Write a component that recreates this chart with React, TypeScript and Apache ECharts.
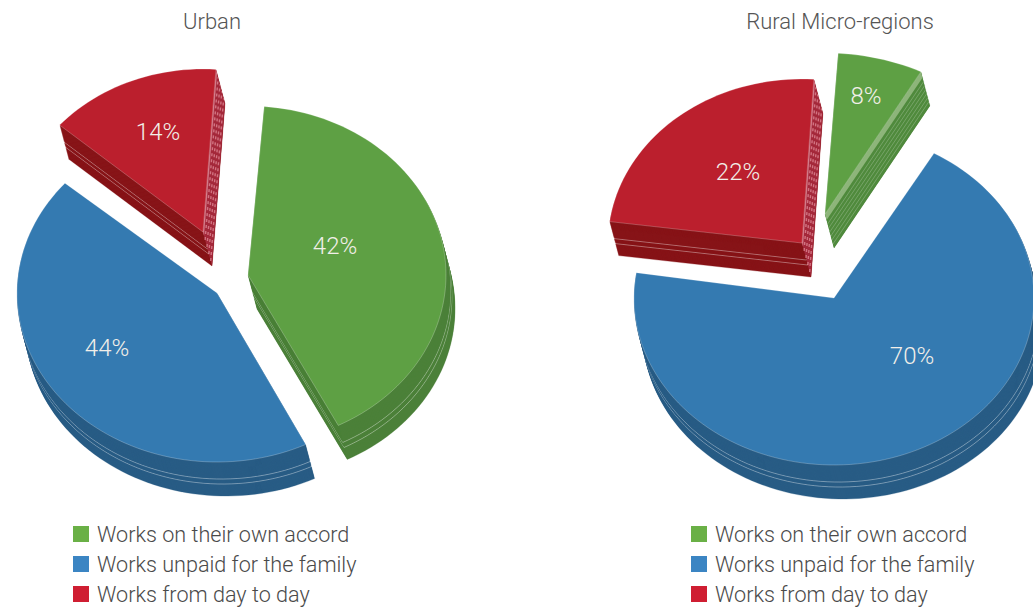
import React, { useEffect, useRef } from "react";
import * as echarts from "echarts";

const categories = ["Works on their own accord", "Works unpaid for the family", "Works from day to day"];
const urbanValues = [42, 44, 14];
const ruralValues = [8, 70, 22];
const pieTitles = ["Urban", "Rural Micro-regions"];

const FONT = "Roboto";
const topColors = ["#5ea044", "#347ab1", "#bb1f2d"];
const wallColors = ["#4c8039", "#285c85", "#871418"];
const faceColors = ["#4f8a3c", "#285c85", "#a4283a"];
const faceBands = ["#8db57a", "#285c85", "#cf6f7f"];
const legendColors = ["#6ab046", "#3b85c3", "#cf1e32"];

const DEPTH = 34;
const SKEW = 9;

// per-slice drawing layout: apex, radii, perspective turn and warp of the sweep,
// label offset from apex, striped cut face
const urbanLayout = [
  { cx: 248, cy: 275, rx: 198, ry: 169, turn: 1.7, warp: 0.98, lx: 87, ly: -29, striped: false },
  { cx: 217, cy: 293, rx: 200, ry: 169, turn: -0.5, warp: 0.99, lx: -110, ly: 55, striped: false },
  { cx: 203, cy: 232, rx: 190, ry: 163, turn: -1.6, warp: 1.05, lx: -45, ly: -100, striped: true },
];
const ruralLayout = [
  { cx: 825, cy: 214, rx: 205, ry: 161, turn: 0.7, warp: 0.84, lx: 41, ly: -118, striped: true },
  { cx: 834, cy: 298, rx: 200, ry: 167, turn: -1.8, warp: 0.987, lx: 78, ly: 58, striped: false },
  { cx: 802, cy: 243, rx: 194, ry: 164, turn: -6.3, warp: 1.086, lx: -64, ly: -71, striped: true },
];

function slicePoints(l: any, t0: number, t1: number) {
  const pts: number[][] = [[l.cx, l.cy]];
  const n = Math.max(4, Math.ceil((t1 - t0) / 2));
  for (let i = 0; i <= n; i++) {
    const t = ((t0 + ((t1 - t0) * i) / n) * Math.PI) / 180;
    pts.push([l.cx + l.rx * Math.sin(t), l.cy - l.ry * Math.cos(t)]);
  }
  return pts;
}

function shifted(pts: number[][], d: number) {
  const dx = (SKEW * d) / DEPTH;
  return pts.map((p) => [p[0] + dx, p[1] + d]);
}

function buildSeries(values: number[], layout: any[], startAngle: number) {
  const total = values.reduce((a, b) => a + b, 0);
  const starts: number[] = [];
  let acc = startAngle;
  values.forEach((v) => {
    starts.push(acc);
    acc += (v / total) * 360;
  });
  return [2, 0, 1].map((i) => ({
    type: "custom",
    name: categories[i],
    coordinateSystem: "none",
    silent: true,
    itemStyle: { color: legendColors[i] },
    data: [[values[i]]],
    renderItem: (_p: any, api: any) => {
      const v = api.value(0) as number;
      const l = layout[i];
      const t0 = starts[i] + l.turn;
      const t1 = t0 + ((v / total) * 360) * l.warp;
      const top = slicePoints(l, t0, t1);
      const children: any[] = [];
      for (let d = DEPTH; d >= 1; d--) {
        const isLine = d === 17 || d === 22;
        children.push({
          type: "polygon",
          shape: { points: shifted(top, d) },
          style: {
            fill: wallColors[i],
            stroke: isLine ? "rgba(255,255,255,0.55)" : wallColors[i],
            lineWidth: isLine ? 0.7 : 0.3,
          },
        });
      }
      if (l.striped) {
        const a = top[0];
        const r = top[top.length - 1];
        const quad = (d0: number, d1: number) => {
          const s0 = shifted([a, r], d0);
          const s1 = shifted([a, r], d1);
          return [s0[0], s0[1], s1[1], s1[0]];
        };
        const isRed = i === 2;
        children.push({ type: "polygon", shape: { points: quad(0, DEPTH) }, style: { fill: faceColors[i] } });
        children.push({ type: "polygon", shape: { points: quad(0, isRed ? 4 : 6) }, style: { fill: faceBands[i] } });
        for (let d = isRed ? 8 : 10; d < DEPTH; d += isRed ? 7 : 4) {
          const s = shifted([a, r], d);
          children.push({
            type: "line",
            shape: { x1: s[0][0], y1: s[0][1], x2: s[1][0], y2: s[1][1] },
            style: {
              stroke: isRed ? "rgba(255,190,200,0.5)" : "rgba(255,255,255,0.28)",
              lineWidth: isRed ? 1.4 : 0.8,
              lineDash: isRed ? [3, 3] : undefined,
            },
          });
        }
      }
      children.push({
        type: "polygon",
        shape: { points: top },
        style: { fill: topColors[i], stroke: "rgba(255,255,255,0.4)", lineWidth: 0.6 },
      });
      children.push({
        type: "text",
        style: {
          text: `${v}%`,
          x: l.cx + l.lx,
          y: l.cy + l.ly,
          fill: "#f2efe9",
          font: `300 24px ${FONT}`,
          align: "center",
          verticalAlign: "middle",
        },
      });
      return { type: "group", children };
    },
  }));
}

function legendAt(left: number) {
  return {
    left,
    top: 523,
    height: 84,
    orient: "vertical",
    padding: 0,
    itemGap: 8,
    itemWidth: 16,
    itemHeight: 16,
    icon: "rect",
    selectedMode: false,
    data: categories,
    textStyle: { color: "#4a4a4a", fontFamily: FONT, fontWeight: 300, fontSize: 21.6, lineHeight: 22, padding: [0, 0, 0, 3] },
  };
}

const titleStyle = { color: "#555", fontFamily: FONT, fontWeight: 300, fontSize: 22 };

export default function App() {
  const ref = useRef<HTMLDivElement>(null);
  useEffect(() => {
    document.body.style.margin = "0";
    const chart = echarts.init(ref.current!, undefined, { renderer: "svg" });
    chart.setOption({
      animation: false,
      backgroundColor: "#ffffff",
      title: [
        { text: pieTitles[0], left: 212, top: 10, padding: 0, textAlign: "center", textStyle: titleStyle },
        { text: pieTitles[1], left: 840, top: 10, padding: 0, textAlign: "center", textStyle: titleStyle },
      ],
      legend: [legendAt(73), legendAt(691)],
      series: [...buildSeries(urbanValues, urbanLayout, 3), ...buildSeries(ruralValues, ruralLayout, 3)],
    });
    return () => chart.dispose();
  }, []);
  return <div ref={ref} style={{ width: 1033, height: 607 }} />;
}
